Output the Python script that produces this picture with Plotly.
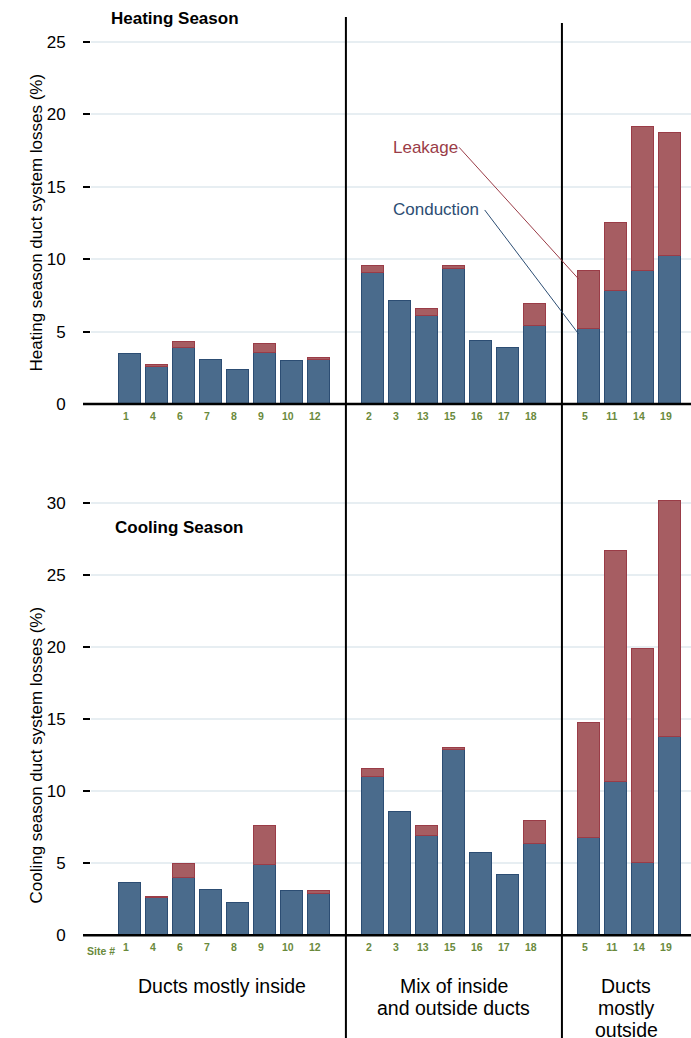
import plotly.graph_objects as go

# ---------------- data ----------------
group_names = [["Ducts mostly inside"],
               ["Mix of inside", "and outside ducts"],
               ["Ducts", "mostly", "outside"]]
group_sites = [[1, 4, 6, 7, 8, 9, 10, 12],
               [2, 3, 13, 15, 16, 17, 18],
               [5, 11, 14, 19]]

heat_conduction = [3.43, 2.58, 3.85, 3.02, 2.35, 3.50, 2.95, 3.06,
                   9.02, 7.11, 6.08, 9.35, 4.35, 3.85, 5.41,
                   5.16, 7.83, 9.21, 10.24]
heat_leakage = [0.00, 0.11, 0.45, 0.00, 0.00, 0.64, 0.00, 0.09,
                0.51, 0.00, 0.46, 0.20, 0.00, 0.00, 1.52,
                4.05, 4.65, 9.94, 8.50]

cool_conduction = [3.61, 2.57, 3.95, 3.12, 2.26, 4.85, 3.05, 2.84,
                   11.00, 8.57, 6.86, 12.85, 5.69, 4.16, 6.33,
                   6.73, 10.61, 4.99, 13.77]
cool_leakage = [0.00, 0.09, 0.97, 0.00, 0.00, 2.71, 0.00, 0.21,
                0.53, 0.00, 0.72, 0.14, 0.00, 0.00, 1.57,
                8.01, 16.01, 14.89, 16.34]

heat_ticks = [0, 5, 10, 15, 20, 25]
cool_ticks = [0, 5, 10, 15, 20, 25, 30]

# ---------------- layout helpers ----------------
W, H = 691, 1038          # target picture size (layout coordinates are in these pixels)
H_LAYOUT = 1048           # figure height handed to plotly
ML = 91
PW = W - ML


def px(x):
    return (x - ML) / PW


def py(y):
    return (H - y) / H


# slot positions: one empty slot between groups
positions, labels, dividers = [], [], []
slot = 0
for gi, sites in enumerate(group_sites):
    for s in sites:
        positions.append(slot)
        labels.append(str(s))
        slot += 1
    if gi < len(group_sites) - 1:
        dividers.append(slot)
        slot += 1

XR = [-1.44, 20.78]
COND_FILL, COND_LINE = "#4a6b8c", "#2c4d73"
LEAK_FILL, LEAK_LINE = "#a65d62", "#9a3c47"
FONT = "Liberation Sans, Arial, sans-serif"
GREEN = "#6a8a3c"

fig = go.Figure()
for cond, leak, xa, ya in [(heat_conduction, heat_leakage, "x", "y"),
                           (cool_conduction, cool_leakage, "x2", "y2")]:
    fig.add_trace(go.Bar(x=positions, y=cond, width=0.8, xaxis=xa, yaxis=ya,
                         marker=dict(color=COND_FILL, line=dict(color=COND_LINE, width=1)),
                         name="Conduction", showlegend=False))
    fig.add_trace(go.Bar(x=positions, y=[v if v > 0 else None for v in leak],
                         width=0.8, xaxis=xa, yaxis=ya,
                         marker=dict(color=LEAK_FILL, line=dict(color=LEAK_LINE, width=1)),
                         name="Leakage", showlegend=False))

top_dom = [py(404), py(10)]
bot_dom = [py(935.3), py(470)]
top_range = [0, (404 - 10) / 14.48]
bot_range = [0, (935.3 - 470) / 14.42]

xcommon = dict(range=XR, showgrid=False, zeroline=False, showline=False,
               tickmode="array", tickvals=[p - 0.15 for p in positions], ticktext=labels,
               ticks="", ticklabelstandoff=4,
               tickfont=dict(family=FONT, size=10.5, color=GREEN, weight="bold"))
ycommon = dict(showgrid=True, gridcolor="#e7eef2", gridwidth=2, zeroline=False,
               showline=False, ticks="outside", ticklen=7, tickwidth=1.5, tickcolor="black",
               ticklabelstandoff=14, tickfont=dict(family=FONT, size=17, color="black"))

fig.update_layout(
    width=W, height=H_LAYOUT, autosize=False, barmode="stack", bargap=0,
    margin=dict(l=ML, r=0, t=0, b=0),
    paper_bgcolor="white", plot_bgcolor="white",
    xaxis=dict(domain=[0, 1], anchor="y", **xcommon),
    yaxis=dict(domain=top_dom, anchor="x", range=top_range, tickvals=heat_ticks, **ycommon),
    xaxis2=dict(domain=[0, 1], anchor="y2", **xcommon),
    yaxis2=dict(domain=bot_dom, anchor="x2", range=bot_range, tickvals=cool_ticks, **ycommon),
)

shapes = []
# baseline axes
for ydom in (top_dom[0], bot_dom[0]):
    shapes.append(dict(type="line", xref="paper", yref="paper", x0=px(83), x1=1,
                       y0=ydom, y1=ydom, line=dict(color="black", width=2.5)))
# group dividers
for d, ytop in zip(dividers, (17, 23)):
    shapes.append(dict(type="line", xref="x", yref="paper", x0=d, x1=d,
                       y0=0, y1=py(ytop), line=dict(color="black", width=2)))
# annotation leader lines (top panel)
shapes.append(dict(type="line", xref="x", yref="y", x0=12.19, y0=17.73, x1=16.62, y1=8.63,
                   line=dict(color="#9a3c47", width=1)))
shapes.append(dict(type="line", xref="x", yref="y", x0=13.14, y0=13.40, x1=16.62, y1=4.83,
                   line=dict(color="#2c4d73", width=1)))
fig.update_layout(shapes=shapes)

ann = []
ann.append(dict(text="Heating season duct system losses (%)", xref="paper", yref="y",
                x=px(25), y=12.5, textangle=-90, showarrow=False,
                font=dict(family=FONT, size=17, color="black")))
ann.append(dict(text="Cooling season duct system losses (%)", xref="paper", yref="y2",
                x=px(25), y=12.5, textangle=-90, showarrow=False,
                font=dict(family=FONT, size=17, color="black")))
ann.append(dict(text="<b>Heating Season</b>", xref="paper", yref="paper",
                x=px(109), y=py(19), xanchor="left", yanchor="middle", showarrow=False,
                font=dict(family=FONT, size=17, color="black")))
ann.append(dict(text="<b>Cooling Season</b>", xref="paper", yref="paper",
                x=px(113), y=py(527), xanchor="left", yanchor="middle", showarrow=False,
                font=dict(family=FONT, size=17, color="black")))
ann.append(dict(text="Leakage", xref="x", yref="y", x=9.68, y=17.73,
                xanchor="left", yanchor="middle", showarrow=False,
                font=dict(family=FONT, size=17, color="#9a3c47")))
ann.append(dict(text="Conduction", xref="x", yref="y", x=9.68, y=13.40,
                xanchor="left", yanchor="middle", showarrow=False,
                font=dict(family=FONT, size=17, color="#2c4d73")))
ann.append(dict(text="<b>Site #</b>", xref="paper", yref="paper", x=px(100.5), y=py(951),
                xanchor="center", yanchor="middle", showarrow=False,
                font=dict(family=FONT, size=10.5, color=GREEN)))
centers_x = [3.4, 12.0, (dividers[-1] + XR[1]) / 2]
for names, cx in zip(group_names, centers_x):
    for i, line in enumerate(names):
        ann.append(dict(text=line, xref="x2", yref="paper", x=cx, y=py(986 + 22 * i),
                        xanchor="center", yanchor="middle", showarrow=False,
                        font=dict(family=FONT, size=19.5, color="black")))
fig.update_layout(annotations=ann)

post = ("document.documentElement.style.margin='0';"
        "document.body.style.margin='0';")
fig.write_html("out.html", config={"displayModeBar": False, "responsive": False},
               post_script=post)
